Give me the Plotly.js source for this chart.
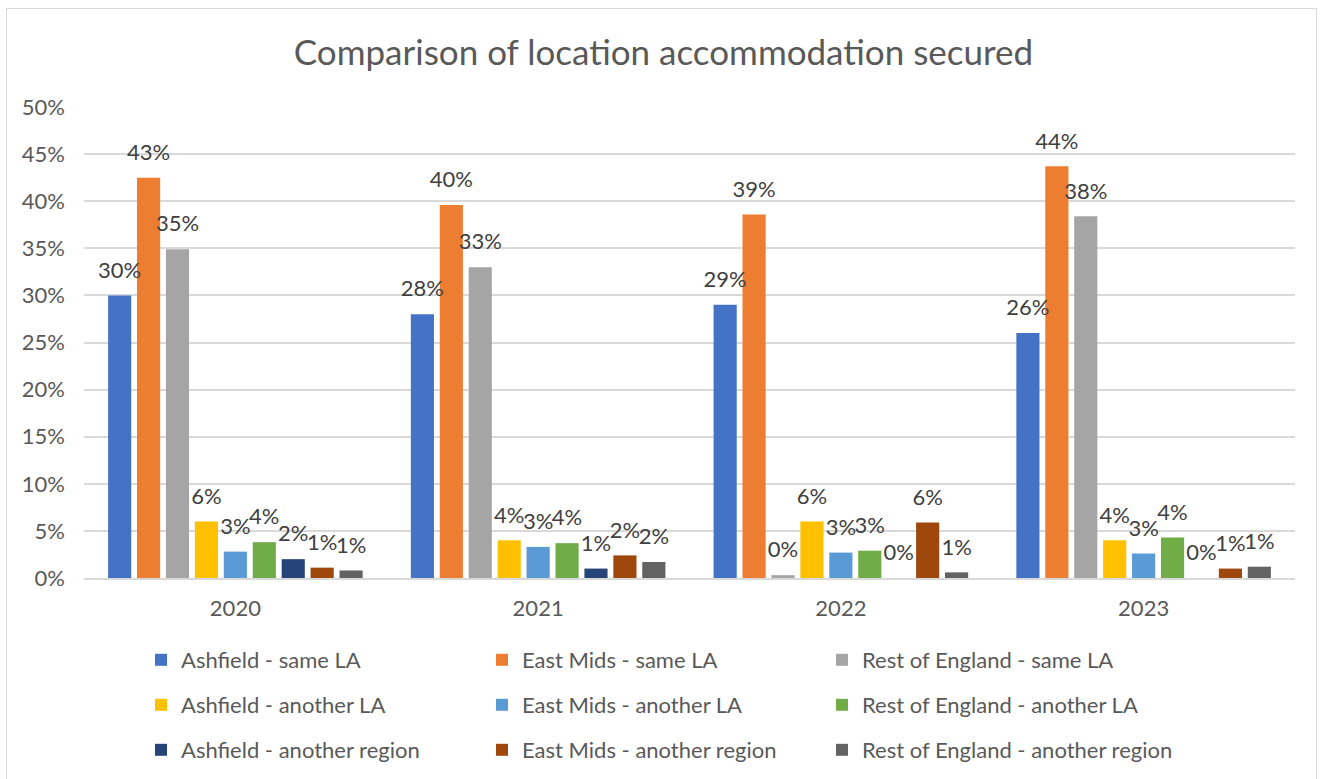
<!DOCTYPE html>
<html>
<head>
<meta charset="utf-8">
<script src="https://cdn.plot.ly/plotly-3.0.1.min.js"></script>
<style>
  html, body { margin: 0; padding: 0; background: #fff; }
  #wrap { position: relative; width: 1327px; height: 779px; }
  #chart { width: 1327px; height: 779px; }
  #frame { position: absolute; left: 6px; top: 8px; width: 1311px; height: 790px;
           border: 1.5px solid #D9D9D9; box-sizing: border-box; pointer-events: none; }
</style>
</head>
<body>
<div id="wrap"><div id="chart"></div><div id="frame"></div></div>
<script>
// ---- data (fractions) ----
const years = ["2020", "2021", "2022", "2023"];
const seriesNames = [
  "Ashfield - same LA", "East Mids - same LA", "Rest of England - same LA",
  "Ashfield - another LA", "East Mids - another LA", "Rest of England - another LA",
  "Ashfield - another region", "East Mids - another region", "Rest of England - another region"
];
const ashfieldSameLA      = [0.300, 0.280, 0.290, 0.260];
const eastMidsSameLA      = [0.425, 0.396, 0.386, 0.437];
const restEnglandSameLA   = [0.349, 0.330, 0.003, 0.384];
const ashfieldAnotherLA   = [0.060, 0.040, 0.060, 0.040];
const eastMidsAnotherLA   = [0.028, 0.033, 0.027, 0.026];
const restEnglandAnotherLA= [0.038, 0.037, 0.029, 0.043];
const ashfieldRegion      = [0.020, 0.010, 0.000, 0.000];
const eastMidsRegion      = [0.011, 0.024, 0.059, 0.010];
const restEnglandRegion   = [0.008, 0.017, 0.006, 0.012];
const seriesValues = [ashfieldSameLA, eastMidsSameLA, restEnglandSameLA,
  ashfieldAnotherLA, eastMidsAnotherLA, restEnglandAnotherLA,
  ashfieldRegion, eastMidsRegion, restEnglandRegion];
const yTickVals = [0, 0.05, 0.10, 0.15, 0.20, 0.25, 0.30, 0.35, 0.40, 0.45, 0.50];

// ---- styling ----
const colors = ["#4472C4", "#ED7D31", "#A5A5A5", "#FFC000", "#5B9BD5", "#70AD47", "#264478", "#9E480E", "#636363"];
const FONT = "Lato, 'Open Sans', sans-serif";
const W = 1327, H = 779;
const legendColX = [141, 482, 822];
const legendRowY = [660, 705, 750];
const legendKey = i => (i === 0 ? "legend" : "legend" + (i + 1));

const barTraces = seriesNames.map((name, i) => ({
  type: "bar",
  name: name,
  x: years,
  y: seriesValues[i],
  marker: { color: colors[i] },
  legend: legendKey(i),
  hoverinfo: "name+y"
}));

// data labels: grouped scatter text positioned over each bar
const labelTraces = seriesNames.map((name, i) => ({
  type: "scatter",
  mode: "markers+text",
  name: name,
  x: years,
  y: seriesValues[i],
  marker: { size: 18, color: "rgba(0,0,0,0)" },
  texttemplate: "%{y:.0%}",
  textposition: "top center",
  textfont: { family: FONT, size: 22, color: "#404040" },
  cliponaxis: false,
  showlegend: false,
  hoverinfo: "skip"
}));

const layout = {
  width: W, height: H,
  paper_bgcolor: "#ffffff",
  plot_bgcolor: "#ffffff",
  margin: { l: 84, r: 32, t: 107, b: 201, pad: 0 },
  title: {
    text: "Comparison of location accommodation secured",
    font: { family: FONT, size: 35, color: "#595959" },
    x: 0.5, xanchor: "center",
    xref: "container",
    yref: "container", y: 1 - 53 / H, yanchor: "middle"
  },
  barmode: "group",
  bargap: 0.14,
  bargroupgap: 0.2,
  scattermode: "group",
  scattergap: 0.14,
  xaxis: {
    type: "category",
    showgrid: false,
    showline: true, linecolor: "#D9D9D9", linewidth: 1.5,
    ticks: "",
    tickfont: { family: FONT, size: 22, color: "#595959" },
    ticklabelstandoff: 10
  },
  yaxis: {
    range: [0, 0.5],
    tickvals: yTickVals,
    tickformat: ".0%",
    showgrid: true, gridcolor: "#D9D9D9", gridwidth: 1.5,
    zeroline: false,
    showline: false,
    ticks: "",
    tickfont: { family: FONT, size: 22, color: "#595959" },
    ticklabelstandoff: 18
  },
  showlegend: true,
  hovermode: "closest"
};

seriesNames.forEach((name, i) => {
  layout[legendKey(i)] = {
    orientation: "h",
    xref: "container", yref: "container",
    x: legendColX[i % 3] / W, xanchor: "left",
    y: 1 - legendRowY[Math.floor(i / 3)] / H, yanchor: "middle",
    font: { family: FONT, size: 22, color: "#595959" },
    bgcolor: "rgba(0,0,0,0)"
  };
});

Plotly.newPlot("chart", barTraces.concat(labelTraces), layout, { displayModeBar: false });
</script>
</body>
</html>
